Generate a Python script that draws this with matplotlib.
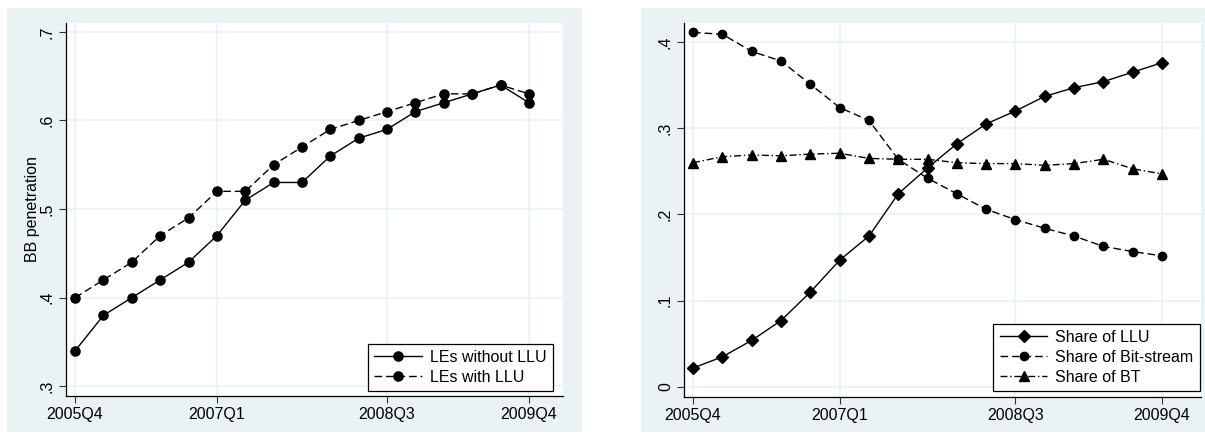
import matplotlib
matplotlib.use("Agg")
import matplotlib.pyplot as plt
from matplotlib.patches import Rectangle

plt.rcParams['font.family'] = ['Liberation Sans', 'DejaVu Sans']
plt.rcParams['lines.scale_dashes'] = False

# Quarters on the x axis
quarters = ['2005Q4', '2006Q1', '2006Q2', '2006Q3', '2006Q4',
            '2007Q1', '2007Q2', '2007Q3', '2007Q4',
            '2008Q1', '2008Q2', '2008Q3', '2008Q4',
            '2009Q1', '2009Q2', '2009Q3', '2009Q4']
xtick_labels = ['2005Q4', '2007Q1', '2008Q3', '2009Q4']

# Broadband penetration by local exchange type
bb_sin_llu = [0.34, 0.38, 0.40, 0.42, 0.44, 0.47, 0.51, 0.53, 0.53,
              0.56, 0.58, 0.59, 0.61, 0.62, 0.63, 0.64, 0.62]
bb_con_llu = [0.40, 0.42, 0.44, 0.47, 0.49, 0.52, 0.52, 0.55, 0.57,
              0.59, 0.60, 0.61, 0.62, 0.63, 0.63, 0.64, 0.63]

# Market shares
share_llu = [0.022, 0.035, 0.054, 0.077, 0.110, 0.147, 0.175, 0.224, 0.254,
             0.282, 0.305, 0.320, 0.337, 0.347, 0.354, 0.365, 0.376]
share_bitstream = [0.411, 0.409, 0.389, 0.378, 0.351, 0.324, 0.309, 0.264, 0.242,
                   0.224, 0.206, 0.194, 0.184, 0.175, 0.163, 0.157, 0.152]
share_bt = [0.260, 0.267, 0.269, 0.268, 0.270, 0.271, 0.265, 0.264, 0.264,
            0.260, 0.259, 0.259, 0.257, 0.259, 0.264, 0.253, 0.247]

left_yticks = [0.3, 0.4, 0.5, 0.6, 0.7]
left_ylabels = ['.3', '.4', '.5', '.6', '.7']
right_yticks = [0.0, 0.1, 0.2, 0.3, 0.4]
right_ylabels = ['0', '.1', '.2', '.3', '.4']

x = list(range(len(quarters)))
xticks = [quarters.index(q) for q in xtick_labels]

W, H = 1205, 434
fig = plt.figure(figsize=(W / 100, H / 100), dpi=100, facecolor='white')

fondo = '#EAF2F3'
fs = 11.5
# paneles de fondo estilo Stata
for (x0, x1) in [(7, 582), (641, 1205)]:
    fig.patches.append(Rectangle((x0 / W, 1 - 432 / H), (x1 - x0) / W, (432 - 8) / H,
                                 transform=fig.transFigure, facecolor=fondo,
                                 edgecolor='none', zorder=-10))

def ejes(rect):
    l, t, r, b = rect
    ax = fig.add_axes([l / W, 1 - b / H, (r - l) / W, (b - t) / H])
    ax.set_facecolor('white')
    for s in ['top', 'right']:
        ax.spines[s].set_visible(False)
    for s in ['left', 'bottom']:
        ax.spines[s].set_linewidth(0.9)
        ax.spines[s].set_color('black')
    ax.grid(True, color=fondo, linewidth=1.2)
    ax.set_axisbelow(True)
    ax.tick_params(direction='out', length=5, width=0.8, color='#333333',
                   labelsize=fs, pad=3)
    ax.set_xticks(xticks)
    ax.set_xticklabels(xtick_labels)
    return ax

def leyenda(ax, anchor):
    leg = ax.legend(loc='lower right', bbox_to_anchor=anchor,
                    borderaxespad=0, fancybox=False, edgecolor='black',
                    framealpha=1, fontsize=fs, handlelength=3.0,
                    numpoints=1, labelspacing=0.3, borderpad=0.4,
                    handletextpad=0.5)
    leg.get_frame().set_linewidth(0.9)
    return leg

# Panel izquierdo: penetración de banda ancha
ax1 = ejes((66, 23, 563, 396))
ax1.plot(x, bb_sin_llu, color='black', lw=1.0, marker='o', ms=6.6,
         label='LEs without LLU')
ax1.plot(x, bb_con_llu, color='black', lw=1.0, marker='o', ms=6.6,
         dashes=(5.5, 2.8), label='LEs with LLU')
ax1.set_xlim(-0.32, 17.2)
ax1.set_ylim(0.289, 0.710)
ax1.set_yticks(left_yticks)
ax1.set_yticklabels(left_ylabels, rotation=90, va='center')
ax1.set_ylabel('BB penetration', fontsize=fs, labelpad=0)
leyenda(ax1, (0.980, 0.013))

# Panel derecho: cuotas de mercado
ax2 = ejes((684, 23, 1201, 397))
ax2.plot(x, share_llu, color='black', lw=1.0, marker='D', ms=6,
         label='Share of LLU')
ax2.plot(x, share_bitstream, color='black', lw=1.0, marker='o', ms=6,
         dashes=(5.5, 2.8), label='Share of Bit-stream')
ax2.plot(x, share_bt, color='black', lw=1.0, marker='^', ms=7,
         dashes=(5, 2, 1, 2), label='Share of BT')
ax2.set_xlim(-0.31, 17.33)
ax2.set_ylim(-0.0116, 0.422)
ax2.set_yticks(right_yticks)
ax2.set_yticklabels(right_ylabels, rotation=90, va='center')
leyenda(ax2, (0.998, 0.016))

fig.savefig('out.png', dpi=100, facecolor='white')
